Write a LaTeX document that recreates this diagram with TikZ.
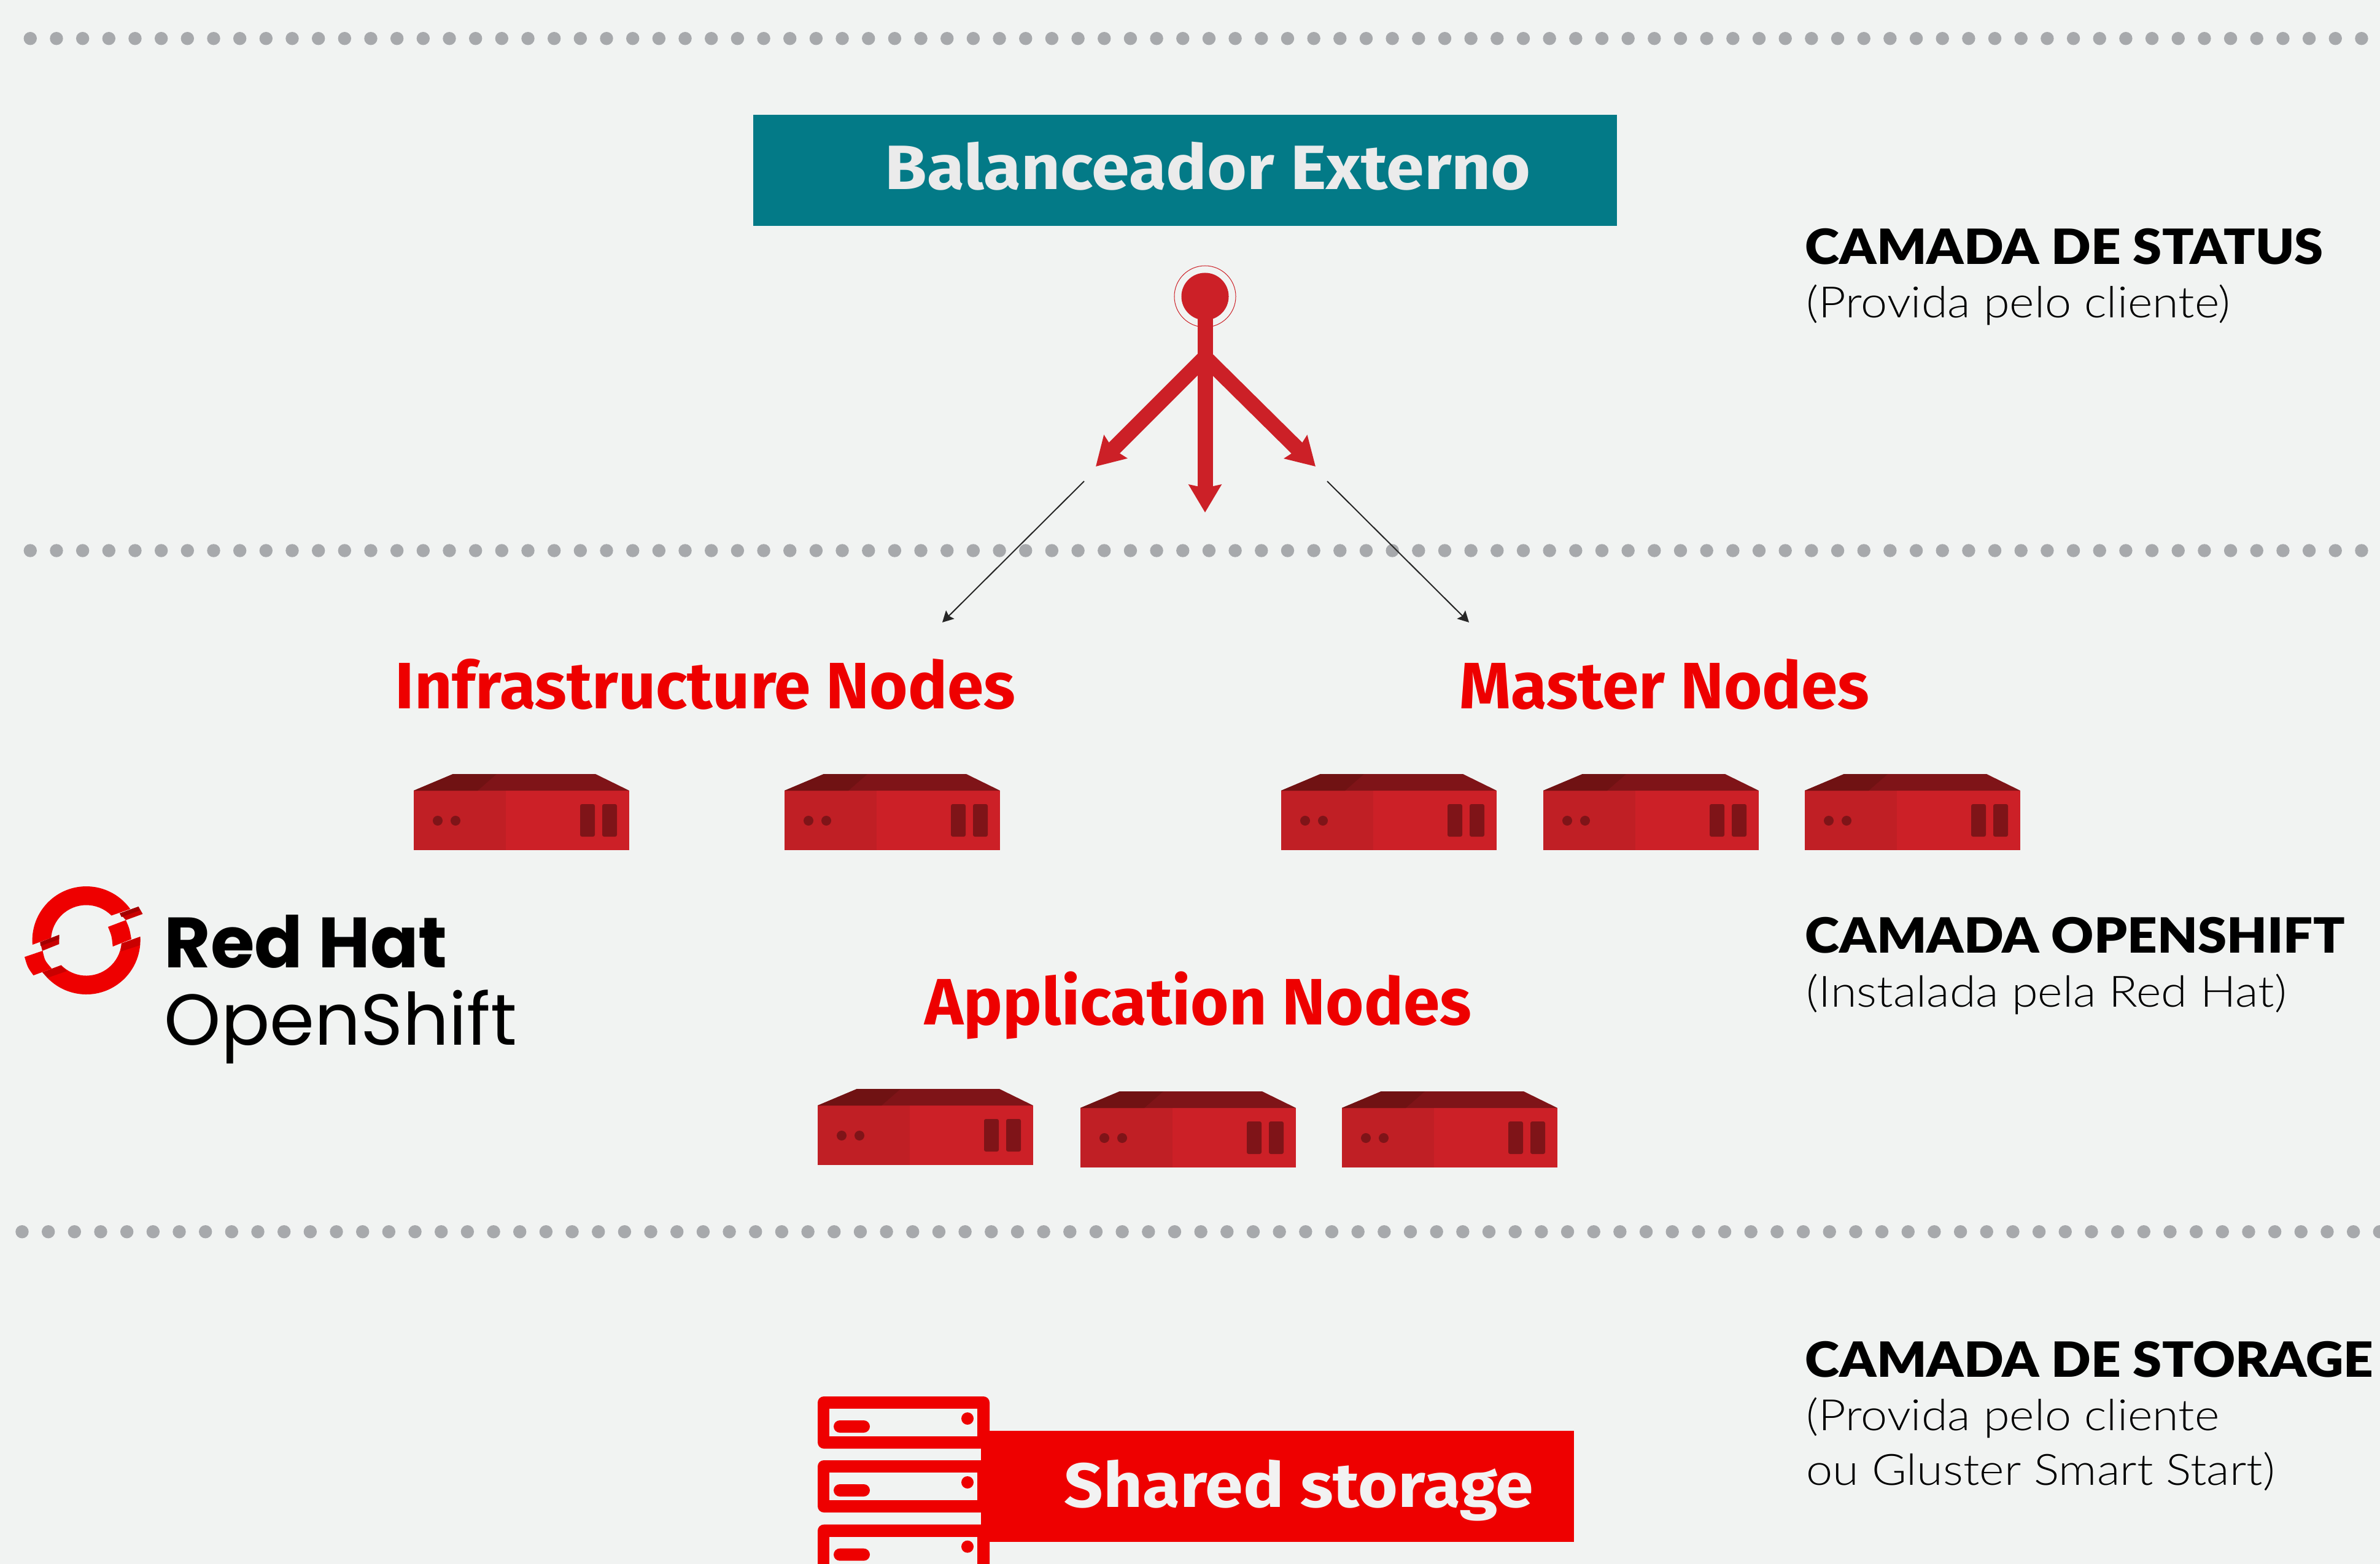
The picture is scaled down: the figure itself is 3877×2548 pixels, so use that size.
\documentclass[tikz,border=0pt]{standalone}
\usepackage{fontspec}
\setmainfont{Fira Sans}
\newfontfamily\widefont{Fira Sans}[FakeStretch=1.09]
\newfontfamily\capfont{Lato Black}[FakeStretch=1.075]
\newfontfamily\subfont{Lato Light}[FakeStretch=1.1]
\newfontfamily\logofont{Poppins}
\usetikzlibrary{arrows.meta}
\definecolor{bgc}{HTML}{F1F3F2}
\definecolor{dotc}{HTML}{A7A9AC}
\definecolor{tealc}{HTML}{037A87}
\definecolor{lblred}{HTML}{EE0000}
\definecolor{srvfront}{HTML}{CC2027}
\definecolor{srvleft}{HTML}{C01F25}
\definecolor{srvroof}{HTML}{7F1418}
\definecolor{srvshade}{HTML}{701213}
\definecolor{logodark}{HTML}{C90000}
\definecolor{logodeep}{HTML}{A30000}
\tikzset{
	x=0.01cm, y=-0.01cm,
	txt/.style={anchor=base west, inner sep=0pt},
	lbl/.style={txt, text=lblred, font=\bfseries\fontsize{30.4}{36}\selectfont},
	caphead/.style={txt, font=\capfont\fontsize{22.5}{27}\selectfont},
	capsub/.style={txt, font=\subfont\fontsize{20}{24}\selectfont},
	bigarrow/.style={line width=0.25cm, srvfront, -{Stealth[length=0.45cm, width=0.52cm, inset=0.05cm]}},
	thinarrow/.style={line width=0.02cm, black!85, -{Stealth[length=0.18cm, width=0.19cm, inset=0.03cm]}},
	server/.pic={
		\fill[srvleft] (0,27) rectangle (150,124);
		\fill[srvfront] (150,27) rectangle (351,124);
		\fill[srvroof] (0,27) -- (64,0) -- (296,0) -- (351,27) -- cycle;
		\fill[srvshade] (0,27) -- (64,0) -- (135,0) -- (104,27) -- cycle;
		\fill[srvroof] (39,76) circle (8) (68,76) circle (8);
		\fill[srvroof, rounded corners=0.03cm] (271,49) rectangle (295,102);
		\fill[srvroof, rounded corners=0.03cm] (307,49) rectangle (331,102);
	},
	rack/.pic={
		\fill[lblred, rounded corners=0.1cm] (0,0) rectangle (280,85);
		\fill[bgc] (19,20) rectangle (260,65);
		\fill[lblred, rounded corners=0.1cm] (26,39) rectangle (85,59);
		\fill[lblred] (244,36) circle (10);
	},
}
\begin{document}
\begin{tikzpicture}
	\clip (0,0) rectangle (3877,2548);
	\fill[bgc] (0,0) rectangle (3877,2548);
	% linhas pontilhadas
	\foreach \v in {0, ..., 89} {
			\fill[dotc] ({49.3 + 42.67 * \v}, 62.7) circle (10.7);
			\fill[dotc] ({49.3 + 42.67 * \v}, 897) circle (10.7);
		}
	\foreach \v in {0, ..., 90} {
			\fill[dotc] ({36 + 42.67 * \v}, 2006.7) circle (10.7);
		}
	% balanceador
	\node[fill=tealc, minimum width=14.07cm, minimum height=1.81cm, inner sep=0pt] (balancer) at (1930.5, 277.5) {};
	\node[txt, text=white!92!black, font=\widefont\bfseries\fontsize{29}{35}\selectfont] (balancerText) at (1441, 308) {Balanceador Externo};
	% setas
	\node[circle, draw=srvfront, line width=0.01cm, minimum size=1cm, inner sep=0pt] (hubRing) at (1963, 483) {};
	\node[circle, fill=srvfront, minimum size=0.77cm, inner sep=0pt] (hub) at (1963, 483) {};
	\coordinate (fork) at (1963, 582);
	\coordinate (tipL) at (1785, 760);
	\coordinate (tipC) at (1963, 835);
	\coordinate (tipR) at (2143, 760);
	\draw[bigarrow] (hub.center) -- (tipC);
	\draw[bigarrow] (fork) -- (tipL);
	\draw[bigarrow] (fork) -- (tipR);
	\coordinate (thinL) at (1766, 784);
	\coordinate (infraEnd) at (1535, 1014);
	\coordinate (thinR) at (2162, 784);
	\coordinate (masterEnd) at (2393, 1014);
	\draw[thinarrow] (thinL) -- (infraEnd);
	\draw[thinarrow] (thinR) -- (masterEnd);
	% grupos de nodes
	\node[lbl] (infraLabel) at (643, 1154) {Infrastructure Nodes};
	\node[lbl] (masterLabel) at (2377, 1154) {Master Nodes};
	\node[lbl] (appLabel) at (1506, 1669) {Application Nodes};
	\foreach \name/\x in {infraA/674, infraB/1278, masterA/2087, masterB/2514, masterC/2940} {
			\pic (\name) at (\x, 1261) {server};
		}
	\pic (appA) at (1332, 1774) {server};
	\pic (appB) at (1760, 1778) {server};
	\pic (appC) at (2186, 1778) {server};
	% storage
	\foreach \name/\y in {rackA/2275, rackB/2379, rackC/2483.7} {
			\pic (\name) at (1332, \y) {rack};
		}
	\node[fill=lblred, minimum width=9.66cm, minimum height=1.81cm, inner sep=0pt] (storage) at (2081, 2421.5) {};
	\node[txt, text=white!95!black, font=\widefont\bfseries\fontsize{29}{35}\selectfont] (storageText) at (1733, 2455) {Shared storage};
	% textos da direita
	\node[caphead] (statusHead) at (2940, 430) {CAMADA DE STATUS};
	\node[capsub] (statusSub) at (2942, 517) {(Provida pelo cliente)};
	\node[caphead] (shiftHead) at (2940, 1552) {CAMADA OPENSHIFT};
	\node[capsub] (shiftSub) at (2942, 1640) {(Instalada pela Red Hat)};
	\node[caphead] (storeHead) at (2940, 2243) {CAMADA DE STORAGE};
	\node[capsub] (storeSubA) at (2942, 2330) {(Provida pelo cliente};
	\node[capsub] (storeSubB) at (2942, 2419) {ou Gluster Smart Start)};
	% logo
	\coordinate (logoC) at (140.6, 1532);
	\fill[lblred] ([shift={(175.4:88)}]logoC) arc[start angle=175.4, end angle=324.5, radius=88]
		-- ([shift={(315.3:57.5)}]logoC) arc[start angle=315.3, end angle=184, radius=57.5] -- cycle;
	\fill[lblred] ([shift={(144:88)}]logoC) arc[start angle=144, end angle=-3.9, radius=88]
		-- ([shift={(5:57.5)}]logoC) arc[start angle=5, end angle=135.4, radius=57.5] -- cycle;
	\fill[lblred] (40,1559) -- (69.5,1549) .. controls (73,1565) .. (84.4,1578) -- (54.5,1589) .. controls (45,1576) .. (40,1559) -- cycle;
	\fill[lblred] (176,1510) -- (205,1499) .. controls (211,1513) .. (214,1530) -- (183.7,1542) .. controls (182,1525) .. (176,1510) -- cycle;
	\fill[logodark] (65.4,1535) -- (96.4,1523) -- (96.4,1538) -- (69,1549) -- cycle;
	\fill[logodeep] (65.4,1535) -- (96.4,1523) -- (96.4,1530) -- (66,1541) -- cycle;
	\fill[logodark] (195,1488) -- (225.6,1477) -- (232.5,1489) -- (205,1499) -- cycle;
	\fill[logodeep] (195,1488) -- (225.6,1477) -- (228,1483) -- (198,1494) -- cycle;
	\fill[logodark] (69,1584) -- (99,1573) -- (109,1582) -- (77.5,1593) -- cycle;
	\fill[logodark] (198,1537) -- (228.5,1526) -- (228,1540) -- (197,1550) -- cycle;
	\node[txt, font=\logofont\bfseries\fontsize{33}{40}\selectfont] (logoTop) at (267, 1576) {Red Hat};
	\node[txt, font=\logofont\fontsize{33.4}{40}\selectfont] (logoBottom) at (267, 1702) {OpenShift};
\end{tikzpicture}
\end{document}
